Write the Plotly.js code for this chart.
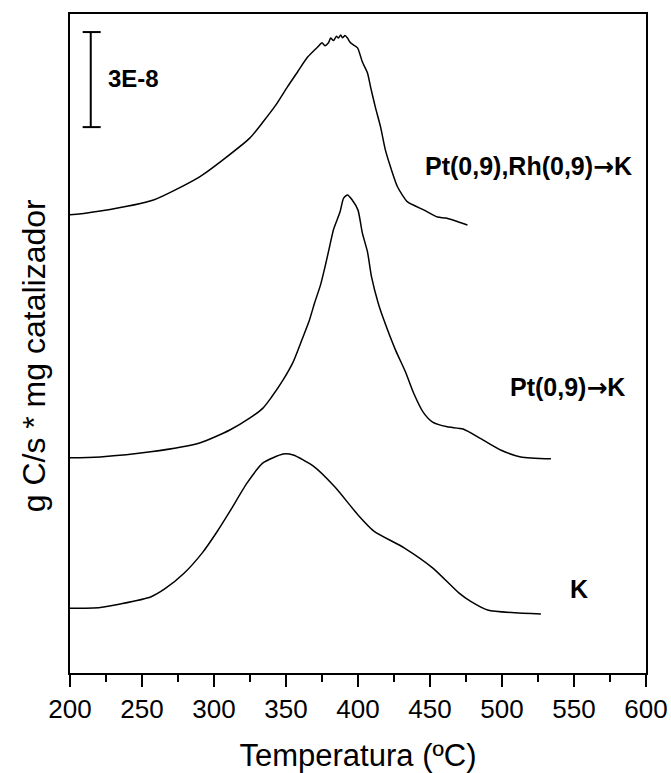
<!DOCTYPE html>
<html>
<head>
<meta charset="utf-8">
<script src="https://cdn.plot.ly/plotly-3.0.1.min.js"></script>
<style>html,body{margin:0;padding:0;background:#fff;}#chart{width:671px;height:773px;}</style>
</head>
<body>
<div id="chart"></div>
<script>
// Temperatures (ºC) and stacked signals (units of 1E-8 g C/s * mg catalizador, offset per curve)
const tempK = [197, 200, 221, 235, 256, 266, 279, 292, 302, 311, 323, 334, 348, 355, 369, 384, 400, 411, 432, 452, 470, 478, 490, 527];
const sigK  = [2.04, 2.04, 2.07, 2.18, 2.40, 2.66, 3.14, 3.80, 4.45, 5.10, 6.00, 6.63, 6.91, 6.88, 6.53, 5.87, 4.99, 4.48, 3.95, 3.31, 2.53, 2.27, 1.99, 1.86];

const tempPt = [197, 200, 221, 256, 290, 311, 325, 334, 340, 348, 355, 361, 366, 370, 374, 377, 380, 383, 387.5, 390, 392.7, 396, 400, 403, 406.6, 409.4, 414, 418, 426, 433, 438.6, 445.6, 451.8, 462, 473, 487, 499, 513, 534];
const sigPt  = [6.79, 6.79, 6.82, 6.98, 7.26, 7.67, 8.05, 8.36, 8.71, 9.25, 9.82, 10.51, 11.10, 11.70, 12.25, 12.80, 13.40, 14.00, 14.55, 14.99, 15.09, 14.93, 14.61, 13.89, 13.29, 12.50, 11.68, 11.14, 10.20, 9.50, 8.84, 8.21, 7.92, 7.77, 7.70, 7.35, 7.04, 6.82, 6.76];

const tempPtRh = [199, 200, 221, 258, 290, 308, 325, 334, 343, 351, 358, 365, 372, 375, 377, 379.5, 381, 383, 385, 386.4, 388, 389.2, 391, 392.7, 394.8, 397, 399.7, 403, 406.6, 408.7, 412, 415.7, 419, 422.6, 427.5, 434.4, 445.6, 455.3, 461, 476];
const sigPtRh  = [14.46, 14.46, 14.58, 14.93, 15.66, 16.26, 16.89, 17.39, 17.93, 18.50, 18.97, 19.44, 19.76, 19.89, 19.80, 19.89, 20.04, 19.96, 20.10, 20.04, 20.14, 20.05, 20.12, 20.04, 19.89, 19.82, 19.73, 19.29, 18.94, 18.50, 17.87, 17.23, 16.51, 15.97, 15.34, 14.87, 14.62, 14.39, 14.36, 14.14];

// Scale bar: 3E-8 span
const scaleX = 214.4;
const scaleBottom = 17.23;
const scaleSpan = 3;
const scaleCap = [208.8, 221.3];

const arrow = '<span style="font-family:DejaVu Sans;font-weight:bold">\u2192</span>';
const labels = ['Pt(0,9),Rh(0,9)' + arrow + 'K', 'Pt(0,9)' + arrow + 'K', 'K', '3E-8'];
const yTitle = 'g C/s * mg catalizador';

const lineStyle = {color: '#000', width: 1.5, shape: 'spline', smoothing: 0.6};
const traces = [
  {x: tempPtRh, y: sigPtRh, mode: 'lines', line: lineStyle, cliponaxis: false, hoverinfo: 'skip'},
  {x: tempPt, y: sigPt, mode: 'lines', line: lineStyle, cliponaxis: false, hoverinfo: 'skip'},
  {x: tempK, y: sigK, mode: 'lines', line: lineStyle, cliponaxis: false, hoverinfo: 'skip'},
  {x: [scaleCap[0], scaleCap[1], null, scaleX, scaleX, null, scaleCap[0], scaleCap[1]],
   y: [scaleBottom + scaleSpan, scaleBottom + scaleSpan, null, scaleBottom + scaleSpan, scaleBottom, null, scaleBottom, scaleBottom],
   mode: 'lines', line: {color: '#000', width: 2}, hoverinfo: 'skip'}
];

const ff = 'Liberation Sans, Arial, sans-serif';
const annFont = {family: ff, size: 25, color: '#000', weight: 'bold'};
const layout = {
  width: 671, height: 773,
  margin: {l: 70, r: 25, t: 14, b: 100},
  paper_bgcolor: '#fff', plot_bgcolor: '#fff',
  showlegend: false,
  font: {family: ff, color: '#000'},
  xaxis: {
    range: [200, 600], dtick: 50, tick0: 200,
    ticks: 'outside', ticklen: 12, tickwidth: 2, tickcolor: '#000',
    minor: {dtick: 25, ticks: 'outside', ticklen: 7, tickwidth: 2, tickcolor: '#000'},
    showline: true, linewidth: 2, linecolor: '#000', mirror: true,
    showgrid: false, zeroline: false,
    tickfont: {size: 26, family: ff},
    ticklabelstandoff: 0,
    title: {text: 'Temperatura (ºC)', font: {size: 31, family: ff}, standoff: 22}
  },
  yaxis: {
    range: [0, 20.8],
    showticklabels: false, ticks: '',
    showline: true, linewidth: 2, linecolor: '#000', mirror: true,
    showgrid: false, zeroline: false
  },
  annotations: [
    {x: 518.6, y: 16.0, text: labels[0], showarrow: false, font: annFont, xanchor: 'center', yanchor: 'middle'},
    {x: 545.7, y: 9.0, text: labels[1], showarrow: false, font: annFont, xanchor: 'center', yanchor: 'middle'},
    {x: 553.4, y: 2.65, text: labels[2], showarrow: false, font: annFont, xanchor: 'center', yanchor: 'middle'},
    {x: 225, y: 18.78, text: labels[3], showarrow: false, font: {family: ff, size: 24, color: '#000', weight: 'bold'}, xanchor: 'left', yanchor: 'middle'},
    {xref: 'paper', yref: 'paper', x: -0.062, y: 0.481, text: yTitle, textangle: -90, showarrow: false,
     font: {family: ff, size: 32, color: '#000'}, xanchor: 'center', yanchor: 'middle'}
  ]
};

Plotly.newPlot('chart', traces, layout, {staticPlot: true, displayModeBar: false});
</script>
</body>
</html>
